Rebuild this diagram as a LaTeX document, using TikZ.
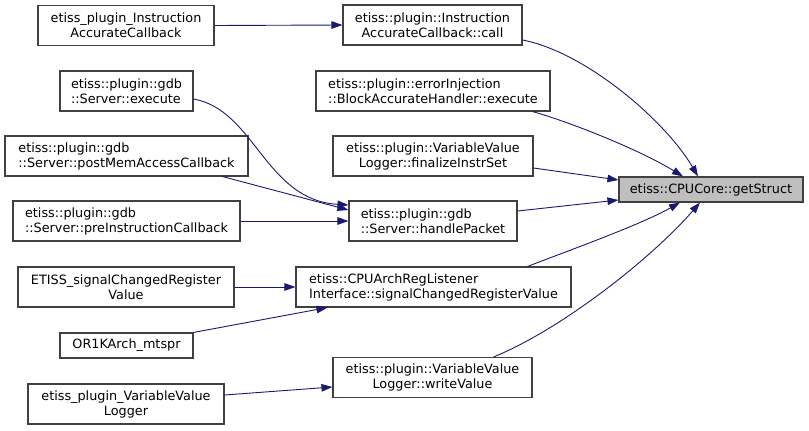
\documentclass[tikz,border=0pt]{standalone}
\usepackage{fontspec}
\setmainfont{DejaVu Sans}
\usetikzlibrary{arrows.meta}
\definecolor{edgeblue}{HTML}{191970}
\definecolor{boxgray}{HTML}{BFBFBF}
\begin{document}
\begin{tikzpicture}[x=1pt,y=-1pt,
  box/.style={draw=black!75, line width=1.1pt, fill=white, inner sep=0pt,
    font=\fontsize{12.8}{15}\selectfont, align=center, minimum height=40pt},
  lbox/.style={box, align=left},
  sbox/.style={box, minimum height=25pt},
  edge/.style={draw=edgeblue, line width=0.9pt, -{Triangle[length=11pt,width=7.5pt]}}]
\useasboundingbox (0,0) rectangle (809,431);
% left column
\node[box, minimum width=176pt] (cbA) at (126,25.5) {etiss\_plugin\_Instruction\\AccurateCallback};
\node[lbox, minimum width=133pt] (exe) at (126.5,91) {etiss::plugin::gdb\\::Server::execute};
\node[lbox, minimum width=243pt] (post) at (126.5,156) {etiss::plugin::gdb\\::Server::postMemAccessCallback};
\node[lbox, minimum width=227pt] (pre) at (126.5,221) {etiss::plugin::gdb\\::Server::preInstructionCallback};
\node[box, minimum width=216pt] (etsig) at (126,287) {ETISS\_signalChangedRegister\\Value};
\node[sbox, minimum width=133pt] (or1k) at (126.5,345.5) {OR1KArch\_mtspr};
\node[box, minimum width=196pt] (vvl) at (126,404) {etiss\_plugin\_VariableValue\\Logger};
% middle column
\node[box, minimum width=179pt] (call) at (432.5,25) {etiss::plugin::Instruction\\AccurateCallback::call};
\node[lbox, minimum width=234pt] (err) at (433,91) {etiss::plugin::errorInjection\\::BlockAccurateHandler::execute};
\node[box, minimum width=200pt] (fin) at (433,156) {etiss::plugin::VariableValue\\Logger::finalizeInstrSet};
\node[lbox, minimum width=168pt] (hp) at (433,221) {etiss::plugin::gdb\\::Server::handlePacket};
\node[lbox, minimum width=275pt] (cpuarch) at (433.5,287) {etiss::CPUArchRegListener\\Interface::signalChangedRegisterValue};
\node[box, minimum width=199pt] (wv) at (432.5,377.5) {etiss::plugin::VariableValue\\Logger::writeValue};
% target
\node[sbox, minimum width=184pt, fill=boxgray] (gs) at (711,189.5) {etiss::CPUCore::getStruct};
% left edges
\draw[edge] (cbA.east) -- (call.west);
\draw[edge] ([yshift=-8pt]exe.east) .. controls (255,110) and (265,200) .. ([yshift=16pt]hp.west);
\draw[edge] ([xshift=-26pt]post.south east) -- ([yshift=11pt]hp.west);
\draw[edge] (pre.east) -- (hp.west);
\draw[edge] (etsig.east) -- (cpuarch.west);
\draw[edge] (or1k.north east) -- ([xshift=32pt]cpuarch.south west);
\draw[edge] ([yshift=9pt]vvl.east) -- ([yshift=-9.5pt]wv.west);
% edges to target
\draw[edge] ([yshift=-15pt]call.east) .. controls (585,52) and (665,120) .. ([xshift=-13pt]gs.north);
\draw[edge] ([xshift=-18pt]err.south east) .. controls (570,122) and (640,150) .. ([xshift=-28pt]gs.north);
\draw[edge] ([yshift=-12pt]fin.east) -- ([yshift=9.5pt]gs.west);
\draw[edge] ([yshift=10pt]hp.east) -- ([yshift=-10.5pt]gs.west);
\draw[edge] ([xshift=-44pt]cpuarch.north east) .. controls (570,250) and (640,225) .. ([xshift=-31pt]gs.south);
\draw[edge] ([xshift=-39pt]wv.north east) .. controls (560,330) and (650,260) .. ([xshift=-11pt]gs.south);
\end{tikzpicture}
\end{document}
